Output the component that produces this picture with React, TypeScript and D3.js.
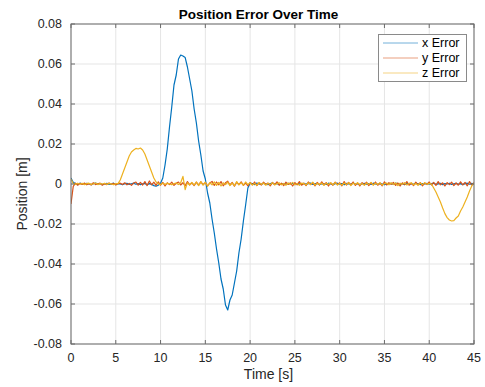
import React from 'react';
import * as d3 from 'd3';

// sampling step of the logged signals [s]
const STEP = 0.25;

// x error [m], one value every 0.25 s from 0 to 45 s
const xError = [
  0.003, 0.0008, 0.0002, -0.0003, 0.0004, 0.0001, -0.0002, 0.0003,
  0.0001, -0.0004, 0.0002, 0.0005, -0.0001, 0.0002, -0.0003, 0.0001,
  0.0003, -0.0002, 0.0001, 0.0004, -0.0003, 0.0002, 0.0, -0.0004,
  0.0002, 0.0003, -0.0002, 0.0001, 0.0004, -0.0001, 0.0002, -0.0003,
  0.0001, 0.0003, -0.0004, 0.0002, -0.0002, -0.0008, -0.0011, -0.0006,
  0.0004, 0.003, 0.0095, 0.0175, 0.0285, 0.0385, 0.0495, 0.0545,
  0.0625, 0.0645, 0.064, 0.0632, 0.0585, 0.0525, 0.0465, 0.0375,
  0.0305, 0.0215, 0.0145, 0.0065, 0.0025, -0.0045, -0.0095, -0.0175,
  -0.0245, -0.0325, -0.0395, -0.0475, -0.0525, -0.0605, -0.063, -0.058,
  -0.0555, -0.0495, -0.0435, -0.0345, -0.0275, -0.0185, -0.0105, -0.002,
  0.0004, 0.0002, -0.0003, 0.0005, 0.0001, -0.0002, 0.0004, 0.0,
  -0.0003, 0.0002, 0.0004, -0.0001, 0.0003, -0.0004, 0.0001, 0.0002,
  -0.0002, 0.0003, 0.0, 0.0004, -0.0003, 0.0002, 0.0001, -0.0002,
  0.0003, -0.0001, 0.0002, 0.0005, -0.0002, 0.0001, 0.0003, -0.0003,
  0.0002, 0.0, -0.0002, 0.0004, 0.0001, -0.0003, 0.0002, 0.0004,
  -0.0001, 0.0002, -0.0004, 0.0003, 0.0001, -0.0002, 0.0004, 0.0,
  0.0002, -0.0003, 0.0001, 0.0003, -0.0001, 0.0002, -0.0002, 0.0004,
  0.0001, -0.0002, 0.0003, 0.0, -0.0004, 0.0002, 0.0001, 0.0003,
  -0.0002, 0.0004, 0.0001, -0.0001, 0.0002, -0.0003, 0.0003, 0.0,
  0.0002, -0.0002, 0.0004, 0.0001, -0.0003, 0.0002, 0.0, 0.0003,
  -0.0001, 0.0002, 0.0004, -0.0002, 0.0001, 0.0003, -0.0003, 0.0002,
  0.0, 0.0004, -0.0002, 0.0001, 0.0003, -0.0001, 0.0002, -0.0003,
  0.0002, 0.0004, -0.0001, 0.0003, 0.0001,
];

// y error [m]
const yError = [
  -0.01, -0.0012, 0.0004, -0.0006, 0.0003, -0.0002, 0.0005, -0.0004,
  0.0002, -0.0005, 0.0006, -0.0003, 0.0001, 0.0004, -0.0006, 0.0002,
  -0.0003, 0.0005, -0.0001, 0.0003, -0.0005, 0.0002, 0.0004, -0.0002,
  0.0006, -0.0004, 0.0003, -0.0007, 0.0005, 0.001, -0.0006, 0.0008,
  -0.0005, 0.0012, -0.0008, 0.0015, -0.0004, 0.0009, -0.0007, 0.0011,
  -0.0006, 0.0008, -0.001, 0.0006, -0.0003, 0.0009, -0.0007, 0.0004,
  0.001, -0.0005, 0.0007, -0.0009, 0.0012, -0.0004, 0.0006, -0.0008,
  0.0009, -0.0006, 0.0011, -0.0003, 0.0007, -0.001, 0.0005, 0.0013,
  -0.0007, 0.001, -0.0004, 0.0012, -0.0009, 0.0006, 0.0014, -0.0005,
  0.0008, -0.0011, 0.0009, -0.0003, 0.0011, -0.0007, 0.0005, -0.0009,
  0.0007, -0.0004, 0.001, -0.0008, 0.0006, -0.0005, 0.0009, -0.0002,
  0.0005, -0.0009, 0.0008, -0.0003, 0.0011, -0.0006, 0.0004, -0.0008,
  0.0009, -0.0002, 0.0006, -0.001, 0.0007, -0.0004, 0.0012, -0.0006,
  0.0004, -0.0008, 0.001, -0.0003, 0.0006, -0.0009, 0.0008, -0.0005,
  0.0011, -0.0004, 0.0007, -0.001, 0.0005, -0.0006, 0.0009, -0.0003,
  0.0006, -0.0009, 0.0012, -0.0005, 0.0008, -0.0004, 0.001, -0.0007,
  0.0005, -0.001, 0.0007, -0.0003, 0.0009, -0.0008, 0.0006, -0.0004,
  0.001, -0.0006, 0.0004, -0.0009, 0.0011, -0.0005, 0.0007, -0.0002,
  0.0008, -0.0007, 0.0005, -0.001, 0.0006, -0.0003, 0.0012, -0.0006,
  0.0004, -0.0008, 0.0009, -0.0004, 0.0007, -0.0009, 0.0005, -0.0003,
  0.001, -0.0005, 0.0008, -0.0007, 0.0012, -0.0004, 0.0006, -0.001,
  0.0007, -0.0003, 0.0009, -0.0008, 0.0005, -0.0006, 0.0011, -0.0004,
  0.0008, -0.0009, 0.0012, -0.0005, 0.0006,
];

// z error [m]
const zError = [
  0.0025, 0.0003, -0.0002, 0.0004, -0.0001, 0.0003, -0.0003, 0.0002,
  0.0004, -0.0002, 0.0001, 0.0005, -0.0003, 0.0002, 0.0, 0.0004,
  -0.0002, 0.0003, 0.0001, -0.0004, 0.0002, 0.0002, 0.002, 0.005,
  0.008, 0.011, 0.014, 0.016, 0.017, 0.0178, 0.0175, 0.018,
  0.017, 0.015, 0.012, 0.009, 0.006, 0.003, 0.001, 0.0002,
  -0.0003, 0.0004, -0.0002, 0.0003, 0.0001, -0.0004, 0.0002, 0.0005,
  -0.0003, 0.0006, 0.0038, -0.0028, 0.0007, -0.0005, 0.0008, -0.0006,
  0.001, -0.0008, 0.0012, -0.0006, 0.0009, -0.0011, 0.0007, -0.0004,
  0.0011, -0.0007, 0.0008, -0.001, 0.0006, -0.0003, 0.0009, -0.0008,
  0.0005, -0.0009, 0.0012, -0.0004, 0.0007, -0.0006, 0.001, -0.0003,
  0.0006, -0.0005, 0.0003, -0.0007, 0.0008, -0.0002, 0.0005, -0.0006,
  0.0004, -0.0003, 0.0007, -0.0005, 0.0002, 0.0006, -0.0004, 0.0003,
  -0.0006, 0.0005, -0.0002, 0.0008, -0.0004, 0.0003, -0.0007, 0.0004,
  0.0002, -0.0005, 0.0006, -0.0003, 0.0009, -0.0006, 0.0003, -0.0002,
  0.0005, -0.0007, 0.0004, -0.0002, 0.0006, -0.0004, 0.0008, -0.0005,
  0.0003, -0.0006, 0.0005, -0.0003, 0.0007, -0.0008, 0.0004, -0.0002,
  0.0006, -0.0004, 0.0003, -0.0007, 0.0005, -0.0002, 0.0008, -0.0005,
  0.0004, -0.0003, 0.0007, -0.0006, 0.0002, 0.0005, -0.0004, 0.0006,
  -0.0003, 0.0005, -0.0008, 0.0004, -0.0002, 0.0007, -0.0005, 0.0003,
  0.0006, -0.0004, 0.0002, -0.0006, 0.0005, -0.0003, 0.0007, -0.0002,
  0.0003, 0.0, -0.002, -0.004, -0.0065, -0.009, -0.012, -0.0148,
  -0.0168, -0.018, -0.0185, -0.0183, -0.017, -0.016, -0.0135, -0.0115,
  -0.009, -0.0065, -0.0035, -0.001, 0.0005,
];

const xTicks = [0, 5, 10, 15, 20, 25, 30, 35, 40, 45];
const yTicks = [-0.08, -0.06, -0.04, -0.02, 0, 0.02, 0.04, 0.06, 0.08];

const series = [
  { name: 'x Error', values: xError, color: '#0072BD' },
  { name: 'y Error', values: yError, color: '#D95319' },
  { name: 'z Error', values: zError, color: '#EDB120' },
];

const W = 485;
const H = 387;
const left = 71, right = 474, top = 24, bottom = 344;
const font = 'Helvetica, "Liberation Sans", Arial, sans-serif';
const textColor = '#262626';

export default function App() {
  const x = d3.scaleLinear().domain([0, 45]).range([left, right]);
  const y = d3.scaleLinear().domain([-0.08, 0.08]).range([bottom, top]);

  const line = d3
    .line<number>()
    .x((d, i) => x(i * STEP))
    .y((d) => y(d));

  const fmt = (v: number) => (v === 0 ? '0' : d3.format('.2f')(v).replace('−', '-'));

  return (
    <svg
      width={W}
      height={H}
      style={{ position: 'absolute', left: 0, top: 0, background: '#fff' }}
      fontFamily={font}
    >
      <rect x={0} y={0} width={W} height={H} fill="#fff" />

      {/* grid */}
      {xTicks.map((t) => (
        <line key={'gx' + t} x1={x(t)} x2={x(t)} y1={top} y2={bottom} stroke="#e5e5e5" strokeWidth={1} />
      ))}
      {yTicks.map((t) => (
        <line key={'gy' + t} x1={left} x2={right} y1={y(t)} y2={y(t)} stroke="#e5e5e5" strokeWidth={1} />
      ))}

      <defs>
        <clipPath id="plotClip">
          <rect x={left} y={top} width={right - left} height={bottom - top} />
        </clipPath>
      </defs>

      {/* data */}
      <g clipPath="url(#plotClip)">
        {series.map((s) => (
          <path key={s.name} d={line(s.values) || ''} fill="none" stroke={s.color} strokeWidth={1.2} strokeLinejoin="round" />
        ))}
      </g>

      {/* box and ticks */}
      <rect x={left} y={top} width={right - left} height={bottom - top} fill="none" stroke="#6b6b6b" strokeWidth={1} />
      {xTicks.map((t) => (
        <g key={'tx' + t}>
          <line x1={x(t)} x2={x(t)} y1={bottom} y2={bottom - 4} stroke="#6b6b6b" />
          <line x1={x(t)} x2={x(t)} y1={top} y2={top + 4} stroke="#6b6b6b" />
          <text x={x(t)} y={362} textAnchor="middle" fontSize={12.5} fill={textColor}>
            {t}
          </text>
        </g>
      ))}
      {yTicks.map((t) => (
        <g key={'ty' + t}>
          <line x1={left} x2={left + 4} y1={y(t)} y2={y(t)} stroke="#6b6b6b" />
          <line x1={right} x2={right - 4} y1={y(t)} y2={y(t)} stroke="#6b6b6b" />
          <text x={62} y={y(t)} dy="0.35em" textAnchor="end" fontSize={12.5} fill={textColor}>
            {fmt(t)}
          </text>
        </g>
      ))}

      {/* labels */}
      <text x={258.5} y={18.5} textAnchor="middle" fontSize={13.5} fontWeight="bold" fill="#000">
        Position Error Over Time
      </text>
      <text x={268.5} y={379} textAnchor="middle" fontSize={14} fill={textColor}>
        Time [s]
      </text>
      <text transform={`translate(27,${194}) rotate(-90)`} textAnchor="middle" fontSize={14} fill={textColor}>
        Position [m]
      </text>

      {/* legend */}
      <g>
        <rect x={378.5} y={34.5} width={88} height={47} fill="#fff" stroke="#8a8a8a" strokeWidth={1} />
        {series.map((s, i) => (
          <g key={'lg' + s.name}>
            <line x1={383} x2={418} y1={43 + i * 15} y2={43 + i * 15} stroke={s.color} strokeWidth={1} opacity={0.55} />
            <text x={422} y={43 + i * 15} dy="0.35em" fontSize={12.5} fill="#000">
              {s.name}
            </text>
          </g>
        ))}
      </g>
    </svg>
  );
}
